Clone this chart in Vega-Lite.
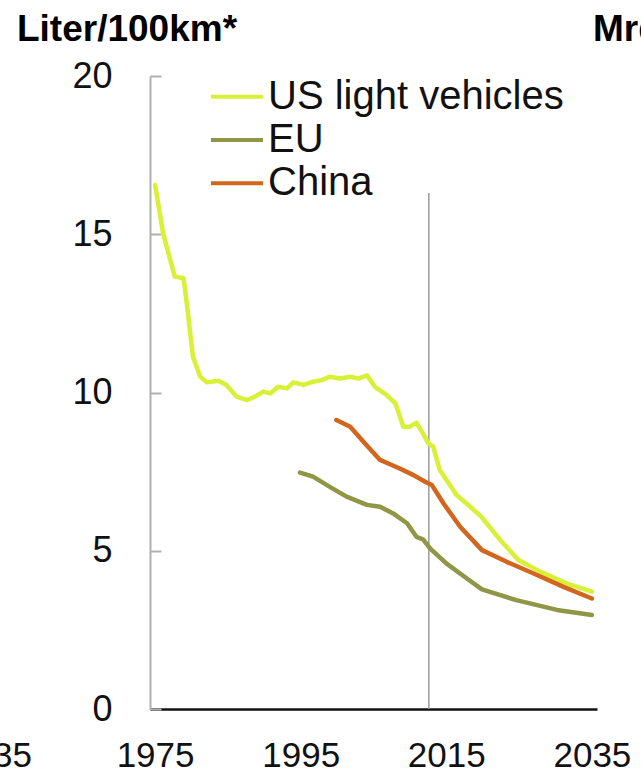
{
  "$schema": "https://vega.github.io/schema/vega-lite/v6.json",
  "width": 447,
  "height": 633,
  "autosize": {"type": "none"},
  "padding": {"left": 150, "top": 76, "right": 44, "bottom": 64},
  "background": "white",
  "config": {
    "view": {"stroke": null},
    "font": "Liberation Sans",
    "legend": {
      "orient": "none",
      "legendX": 67,
      "legendY": 0.7,
      "padding": 0,
      "symbolType": "M-2.6,0H2.6",
      "symbolSize": 400,
      "symbolStrokeWidth": 4,
      "labelFont": "Liberation Sans",
      "labelFontSize": 40,
      "labelColor": "#111111",
      "labelOffset": 11,
      "rowPadding": 3.3,
      "labelLimit": 500
    }
  },
  "encoding": {
    "x": {
      "field": "year",
      "type": "quantitative",
      "scale": {"domain": [1974.3, 2035.7], "nice": false, "zero": false},
      "axis": {
        "title": null,
        "values": [1975, 1995, 2015, 2035],
        "format": "d",
        "grid": false,
        "ticks": false,
        "domainColor": "#111111",
        "domainWidth": 2.5,
        "labelFont": "Liberation Sans",
        "labelFontSize": 35,
        "labelColor": "#111111",
        "labelPadding": 29,
        "labelFlush": false,
        "labelOverlap": false
      }
    },
    "y": {
      "field": "value",
      "type": "quantitative",
      "scale": {"domain": [0, 20], "nice": false},
      "axis": {
        "title": null,
        "values": [0, 5, 10, 15, 20],
        "grid": false,
        "domainColor": "#b0b0b0",
        "domainWidth": 2,
        "tickColor": "#b0b0b0",
        "tickWidth": 2,
        "tickSize": -11,
        "labelFont": "Liberation Sans",
        "labelFontSize": 36,
        "labelColor": "#111111",
        "labelPadding": 49
      }
    }
  },
  "layer": [
    {
      "data": {"values": [{"year": 2012.6, "value": 0, "top": 16.3}]},
      "mark": {"type": "rule", "color": "#9a9a9a", "strokeWidth": 1.5},
      "encoding": {"y2": {"field": "top"}}
    },
    {
      "data": {"values": [
        {"series": "US light vehicles", "year": 1975.0, "value": 16.56},
        {"series": "US light vehicles", "year": 1976.1, "value": 15.03},
        {"series": "US light vehicles", "year": 1977.7, "value": 13.66},
        {"series": "US light vehicles", "year": 1978.9, "value": 13.61},
        {"series": "US light vehicles", "year": 1979.3, "value": 12.92},
        {"series": "US light vehicles", "year": 1980.2, "value": 11.13},
        {"series": "US light vehicles", "year": 1981.2, "value": 10.5},
        {"series": "US light vehicles", "year": 1982.1, "value": 10.32},
        {"series": "US light vehicles", "year": 1983.7, "value": 10.37},
        {"series": "US light vehicles", "year": 1984.8, "value": 10.24},
        {"series": "US light vehicles", "year": 1986.2, "value": 9.87},
        {"series": "US light vehicles", "year": 1987.6, "value": 9.76},
        {"series": "US light vehicles", "year": 1988.7, "value": 9.87},
        {"series": "US light vehicles", "year": 1989.9, "value": 10.03},
        {"series": "US light vehicles", "year": 1990.8, "value": 9.97},
        {"series": "US light vehicles", "year": 1991.9, "value": 10.18},
        {"series": "US light vehicles", "year": 1993.1, "value": 10.13},
        {"series": "US light vehicles", "year": 1994.0, "value": 10.32},
        {"series": "US light vehicles", "year": 1995.4, "value": 10.24},
        {"series": "US light vehicles", "year": 1996.7, "value": 10.34},
        {"series": "US light vehicles", "year": 1997.9, "value": 10.39},
        {"series": "US light vehicles", "year": 1999.0, "value": 10.5},
        {"series": "US light vehicles", "year": 2000.4, "value": 10.44},
        {"series": "US light vehicles", "year": 2001.8, "value": 10.5},
        {"series": "US light vehicles", "year": 2002.9, "value": 10.44},
        {"series": "US light vehicles", "year": 2004.1, "value": 10.54},
        {"series": "US light vehicles", "year": 2005.2, "value": 10.18},
        {"series": "US light vehicles", "year": 2006.8, "value": 9.92},
        {"series": "US light vehicles", "year": 2008.0, "value": 9.66},
        {"series": "US light vehicles", "year": 2009.1, "value": 8.92},
        {"series": "US light vehicles", "year": 2010.0, "value": 8.92},
        {"series": "US light vehicles", "year": 2010.9, "value": 9.05},
        {"series": "US light vehicles", "year": 2011.9, "value": 8.66},
        {"series": "US light vehicles", "year": 2012.5, "value": 8.4},
        {"series": "US light vehicles", "year": 2013.2, "value": 8.29},
        {"series": "US light vehicles", "year": 2014.1, "value": 7.55},
        {"series": "US light vehicles", "year": 2015.0, "value": 7.24},
        {"series": "US light vehicles", "year": 2016.4, "value": 6.76},
        {"series": "US light vehicles", "year": 2018.3, "value": 6.39},
        {"series": "US light vehicles", "year": 2019.8, "value": 6.08},
        {"series": "US light vehicles", "year": 2022.4, "value": 5.34},
        {"series": "US light vehicles", "year": 2024.9, "value": 4.71},
        {"series": "US light vehicles", "year": 2027.9, "value": 4.34},
        {"series": "US light vehicles", "year": 2031.5, "value": 3.97},
        {"series": "US light vehicles", "year": 2035.0, "value": 3.71},
        {"series": "EU", "year": 1994.9, "value": 7.47},
        {"series": "EU", "year": 1996.7, "value": 7.34},
        {"series": "EU", "year": 1999.0, "value": 7.02},
        {"series": "EU", "year": 2001.3, "value": 6.71},
        {"series": "EU", "year": 2004.1, "value": 6.45},
        {"series": "EU", "year": 2005.9, "value": 6.39},
        {"series": "EU", "year": 2007.7, "value": 6.18},
        {"series": "EU", "year": 2009.6, "value": 5.87},
        {"series": "EU", "year": 2010.9, "value": 5.44},
        {"series": "EU", "year": 2011.8, "value": 5.36},
        {"series": "EU", "year": 2012.8, "value": 5.07},
        {"series": "EU", "year": 2015.0, "value": 4.6},
        {"series": "EU", "year": 2017.5, "value": 4.18},
        {"series": "EU", "year": 2019.9, "value": 3.78},
        {"series": "EU", "year": 2024.6, "value": 3.44},
        {"series": "EU", "year": 2030.2, "value": 3.13},
        {"series": "EU", "year": 2035.0, "value": 2.97},
        {"series": "China", "year": 1999.9, "value": 9.13},
        {"series": "China", "year": 2001.8, "value": 8.92},
        {"series": "China", "year": 2003.8, "value": 8.4},
        {"series": "China", "year": 2005.9, "value": 7.87},
        {"series": "China", "year": 2006.8, "value": 7.78},
        {"series": "China", "year": 2008.6, "value": 7.6},
        {"series": "China", "year": 2010.5, "value": 7.39},
        {"series": "China", "year": 2012.1, "value": 7.18},
        {"series": "China", "year": 2013.0, "value": 7.08},
        {"series": "China", "year": 2014.6, "value": 6.5},
        {"series": "China", "year": 2016.9, "value": 5.76},
        {"series": "China", "year": 2019.9, "value": 5.02},
        {"series": "China", "year": 2023.3, "value": 4.65},
        {"series": "China", "year": 2027.0, "value": 4.28},
        {"series": "China", "year": 2031.1, "value": 3.86},
        {"series": "China", "year": 2035.0, "value": 3.49}
      ]},
      "mark": {"type": "line", "strokeWidth": 4.5, "strokeJoin": "round", "strokeCap": "round"},
      "encoding": {
        "color": {
          "field": "series",
          "type": "nominal",
          "sort": ["US light vehicles", "EU", "China"],
          "scale": {"domain": ["US light vehicles", "EU", "China"], "range": ["#d8f035", "#8f9646", "#d2661c"]},
          "legend": {"title": null}
        }
      }
    },
    {
      "data": {"values": [
        {"text": "Liter/100km*", "year": 1956.03, "value": 21.11},
        {"text": "Mrd", "year": 2035.15, "value": 21.11}
      ]},
      "mark": {"type": "text", "font": "Liberation Sans", "fontWeight": "bold", "fontSize": 37, "align": "left", "baseline": "alphabetic", "color": "#000000"},
      "encoding": {"text": {"field": "text"}}
    },
    {
      "data": {"values": [{"text": "2035", "year": 1958.09, "value": -1.83}]},
      "mark": {"type": "text", "font": "Liberation Sans", "fontSize": 35, "align": "right", "baseline": "alphabetic", "color": "#111111"},
      "encoding": {"text": {"field": "text"}}
    }
  ]
}
